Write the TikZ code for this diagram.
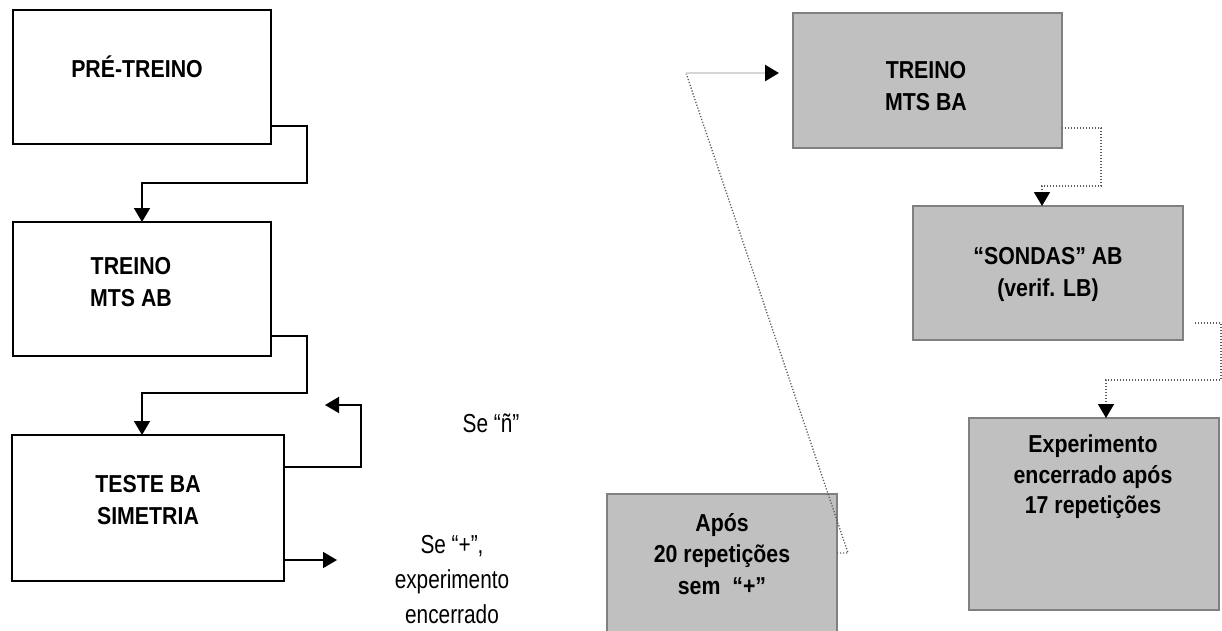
\documentclass[tikz,border=0pt]{standalone}
\usepackage{fontspec}
\setmainfont{Liberation Sans}
\newfontfamily\narrowbold{Liberation Sans}[FakeStretch=0.87]
\newfontfamily\narrowreg{Liberation Sans}[FakeStretch=0.8]
\usetikzlibrary{arrows.meta}

\definecolor{boxgray}{HTML}{C0C0C0}
\definecolor{edgegray}{HTML}{808080}
\definecolor{dotgray}{HTML}{5A5A5A}
\definecolor{palegray}{HTML}{D6D6D6}

\tikzset{
    whitebox/.style={draw=black, line width=1.5pt, fill=white, inner sep=0pt, outer sep=0pt},
    graybox/.style={draw=edgegray, line width=1.6pt, fill=boxgray, inner sep=0pt, outer sep=0pt},
    boxtext/.style={align=center, inner sep=0pt, font=\narrowbold\bfseries\fontsize{24.5}{32}\selectfont},
    sidetext/.style={align=center, inner sep=0pt, font=\narrowreg\fontsize{26}{35}\selectfont},
    tip/.style={-{Triangle[length=14pt, width=16pt, color=black]}},
    flow/.style={draw=black, line width=1.6pt, tip},
    dotflow/.style={draw=dotgray, line width=1.3pt, dash pattern=on 1.2pt off 1.8pt},
}

\begin{document}
\begin{tikzpicture}[x=1pt, y=-1pt]
    \useasboundingbox (0,0) rectangle (1222,630);

    % left column
    \node[whitebox, minimum width=258pt, minimum height=134pt] (pre) at (142,77) {};
    \node[boxtext] (pre-t) at (137,67) {PRÉ-TREINO};
    \node[whitebox, minimum width=258pt, minimum height=134pt] (mtsab) at (142,289) {};
    \node[boxtext] (mtsab-t) at (131,282.5) {TREINO\\MTS AB};
    \node[whitebox, minimum width=272pt, minimum height=146pt] (teste) at (148,508) {};
    \node[boxtext] (teste-t) at (148,500) {TESTE BA\\SIMETRIA};

    % right column
    \node[graybox, minimum width=269pt, minimum height=135pt] (mtsba) at (927.5,80.5) {};
    \node[boxtext] (mtsba-t) at (926,86.5) {TREINO\\MTS BA};
    \node[graybox, minimum width=270pt, minimum height=134pt] (sondas) at (1048,273) {};
    \node[boxtext] (sondas-t) at (1048,274.5) {“SONDAS” AB\\(verif. LB)};
    \node[graybox, minimum width=250pt, minimum height=192pt] (exp) at (1094,514) {};
    \node[boxtext, font=\narrowbold\bfseries\fontsize{24.5}{30.5}\selectfont] (exp-t) at (1093,477)
        {Experimento\\encerrado após\\17 repetições};
    \node[graybox, minimum width=230pt, minimum height=146pt] (apos) at (722,567) {};
    \node[boxtext, font=\narrowbold\bfseries\fontsize{24.5}{31.5}\selectfont] (apos-t) at (722,554)
        {Após\\20 repetições\\sem~ “+”};

    % side labels
    \node[sidetext] (nao) at (491,423) {Se “ñ”};
    \node[sidetext] (mais) at (452,580) {Se “+”,\\experimento\\encerrado};

    % free ends
    \coordinate (naoend) at (325,405);
    \coordinate (maisend) at (337,560);
    \coordinate (turn) at (686,73);

    % left flow
    \draw[flow] (pre.east |- 0,126) -- ++(36,0) -- ++(0,57) -| (mtsab.north);
    \draw[flow] (mtsab.east |- 0,336) -- ++(36,0) -- ++(0,57) -| ([xshift=-6pt]teste.north);
    \draw[flow] (teste.east |- 0,467) -- ++(77,0) -- ++(0,-62) -- (naoend);
    \draw[flow] (teste.east |- 0,560) -- (maisend);

    % back to MTS BA
    \draw[dotflow] (apos.east |- 0,553) -- ++(11,0) -- (turn);
    \draw[palegray, line width=2.5pt, tip, shorten >=14pt] (turn) -- (mtsba.west |- turn);

    % dotted flow
    \draw[dotflow, tip] (mtsba.east |- 0,128) -- ++(39,0) -- ++(0,58) -| ([xshift=-6pt]sondas.north);
    \draw[dotflow, tip, shorten <=12pt] (sondas.east |- 0,323) -- ++(38,0) -- ++(0,57) -| ([xshift=12pt]exp.north);

\end{tikzpicture}
\end{document}
